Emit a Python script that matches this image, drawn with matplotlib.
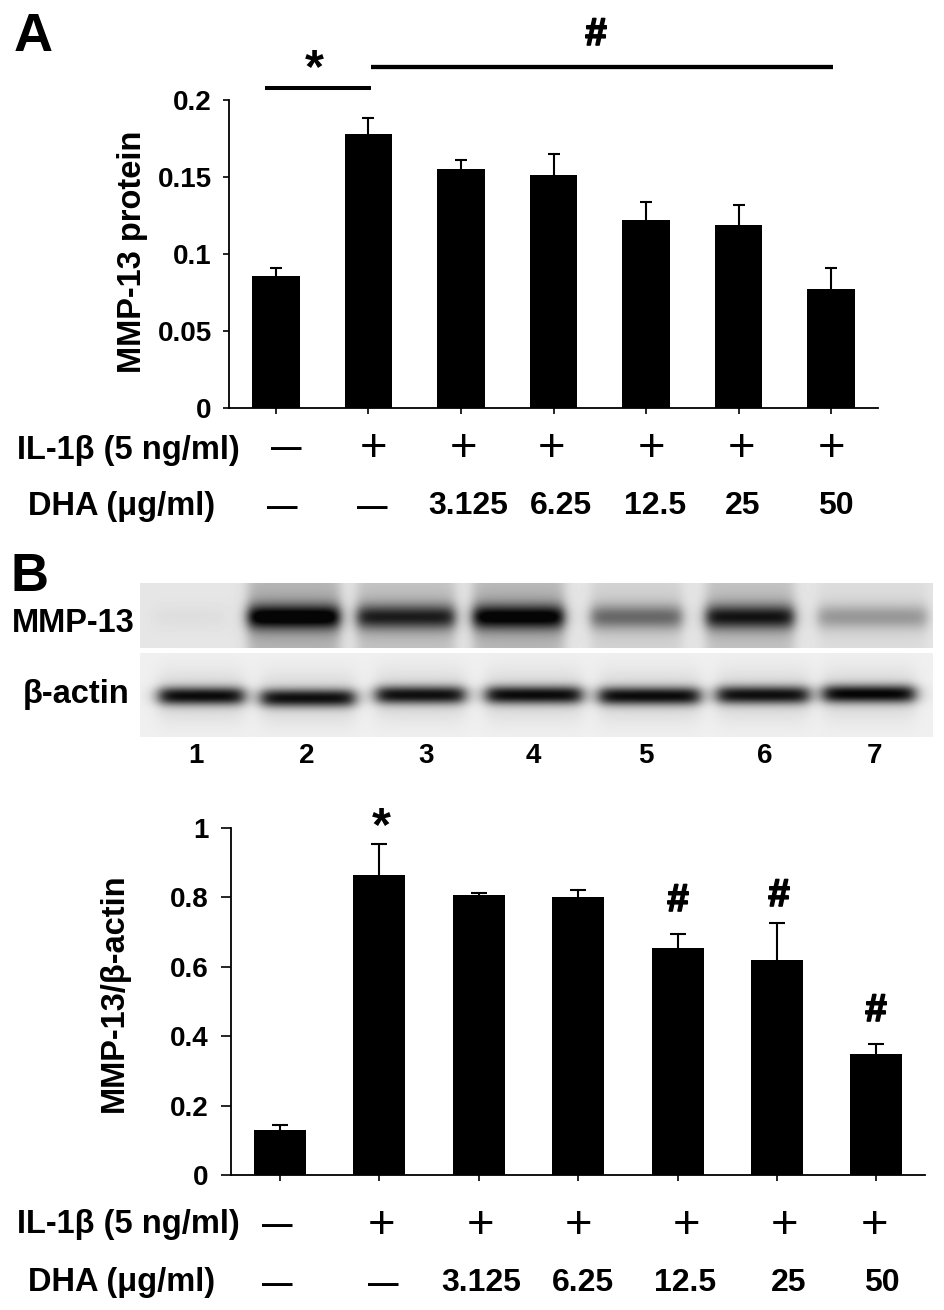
import numpy as np
import matplotlib
matplotlib.use("Agg")
import matplotlib.pyplot as plt
import matplotlib.patheffects as pe

W, H = 945, 1310
plt.rcParams['font.family'] = ['Liberation Sans', 'DejaVu Sans']
plt.rcParams['font.weight'] = 'bold'

# --- data ---
a_values = [0.086, 0.178, 0.155, 0.151, 0.122, 0.119, 0.077]
a_err = [0.005, 0.010, 0.006, 0.014, 0.012, 0.013, 0.014]
a_ticks = [0, 0.05, 0.1, 0.15, 0.2]
a_ticklabels = ['0', '0.05', '0.1', '0.15', '0.2']

b_values = [0.13, 0.865, 0.808, 0.80, 0.655, 0.62, 0.35]
b_err = [0.015, 0.09, 0.004, 0.02, 0.04, 0.105, 0.028]
b_ticks = [0, 0.2, 0.4, 0.6, 0.8, 1]
b_ticklabels = ['0', '0.2', '0.4', '0.6', '0.8', '1']

il1_row = ['—', '+', '+', '+', '+', '+', '+']
dha_row = ['—', '—', '3.125', '6.25', '12.5', '25', '50']
lanes = ['1', '2', '3', '4', '5', '6', '7']

# blot band strengths per lane
mmp_strength = [0.04, 0.98, 0.80, 0.95, 0.52, 0.85, 0.34]
mmp_smear = [0.0, 0.30, 0.22, 0.28, 0.12, 0.22, 0.06]
actin_strength = [0.92, 0.90, 0.90, 0.92, 0.92, 0.90, 0.95]

fig = plt.figure(figsize=(W / 100, H / 100), dpi=100)


def make_axes(left, right, top, bottom):
    return fig.add_axes([left / W, 1 - bottom / H, (right - left) / W, (bottom - top) / H])


# overlay in pixel coordinates for text, blot and markers
ov = fig.add_axes([0, 0, 1, 1])
ov.set_xlim(0, W)
ov.set_ylim(H, 0)
ov.axis('off')
ov.set_zorder(5)


def bar_panel(box, vals, errs, width, ymax, ticks, labels, xlim, ylabel, ylabel_x, ylabel_y,
              ylen, ypad, capms):
    ax = make_axes(*box)
    x = np.arange(len(vals))
    tops = np.array(vals) + np.array(errs)
    ax.bar(x, vals, width=width, color='black', zorder=2)
    ax.vlines(x, vals, tops, color='black', lw=1.5, zorder=1)
    ax.plot(x, tops, ls='none', marker='_', ms=capms, mew=1.5, color='black', zorder=1)
    ax.set_xlim(*xlim)
    ax.set_ylim(0, ymax)
    ax.set_xticks(x)
    ax.set_xticklabels([])
    ax.set_yticks(ticks)
    ax.set_yticklabels(labels, fontsize=20, fontweight='bold')
    ax.tick_params(axis='x', length=4, width=1.2, pad=2)
    ax.tick_params(axis='y', length=ylen, width=1.2, pad=ypad)
    for s in ['top', 'right']:
        ax.spines[s].set_visible(False)
    for s in ['left', 'bottom']:
        ax.spines[s].set_linewidth(1.3)
    ov.text(ylabel_x, ylabel_y, ylabel, rotation=90, fontsize=23.5, ha='center', va='center')
    return ax


ax_a = bar_panel((229, 878, 100, 408), a_values, a_err, 0.513, 0.2, a_ticks, a_ticklabels,
                 (-0.508, 6.508), 'MMP-13 protein', 133, 252, 4.5, 8, 9)
ax_b = bar_panel((231, 925, 828, 1175), b_values, b_err, 0.523, 1.0, b_ticks, b_ticklabels,
                 (-0.493, 6.49), 'MMP-13/β-actin', 114, 993, 7, 9, 11)


def row(y, items, xs):
    for s, x in zip(items, xs):
        if s == '+':
            ov.text(x, y + 2, s, fontsize=34, fontweight='normal', ha='center', va='center')
        elif s == '—':
            ov.text(x, y + 2, s, fontsize=22, ha='center', va='center')
        else:
            ov.text(x, y, s, fontsize=23, ha='center', va='center')


row(447, il1_row, [286, 374, 464, 552, 652, 742, 832])
row(506, dha_row, [282, 372, 468, 561, 655, 743, 836])
row(1224, il1_row, [277, 382, 481, 579, 687, 785, 875])
row(1283, dha_row, [277, 383, 481, 583, 685, 789, 882])

ov.text(17, 450, 'IL-1β (5 ng/ml)', fontsize=23.5, ha='left', va='center')
ov.text(28, 506, 'DHA (μg/ml)', fontsize=23.5, ha='left', va='center')
ov.text(17, 1225, 'IL-1β (5 ng/ml)', fontsize=23.5, ha='left', va='center')
ov.text(28, 1283, 'DHA (μg/ml)', fontsize=23.5, ha='left', va='center')

# panel letters
ov.text(33, 37, 'A', fontsize=39, ha='center', va='center')
ov.text(30, 577, 'B', fontsize=38, ha='center', va='center')

# significance marks
hash_fx = [pe.withStroke(linewidth=1.2, foreground='black')]
ov.plot([265, 371], [88, 88], color='black', lw=2.9, solid_capstyle='butt')
ov.plot([371, 833], [66.5, 66.5], color='black', lw=3.1, solid_capstyle='butt')
ov.text(314, 70, '*', fontsize=35, ha='center', va='center')
ov.text(596, 35, '#', fontsize=28, ha='center', va='center', path_effects=hash_fx)
ov.text(381, 828, '*', fontsize=35, ha='center', va='center')
for x, y in [(678, 901), (779, 896), (876, 1011)]:
    ov.text(x, y, '#', fontsize=28, ha='center', va='center', path_effects=hash_fx)

# --- western blots, built from band strengths ---
blot_left, blot_right = 140, 933
mmp_top, mmp_bottom = 583, 648
act_top, act_bottom = 653, 737
mmp_lanes = [(155, 225), (248, 340), (357, 455), (473, 564), (591, 682), (706, 794), (818, 927)]
act_lanes = [(159, 244), (261, 355), (376, 465), (486, 582), (599, 700), (717, 809), (823, 915)]
act_y = [696, 698, 695, 695, 696, 695, 694]

xx = np.arange(blot_left, blot_right) + 0.5


def box_profile(x, lo, hi, edge):
    return 0.5 * (np.tanh((x - lo) / edge) - np.tanh((x - hi) / edge))


yy = np.arange(mmp_top, mmp_bottom) + 0.5
mmp = np.full((len(yy), len(xx)), 0.90)
for (lo, hi), s, sm in zip(mmp_lanes, mmp_strength, mmp_smear):
    prof = box_profile(xx, lo, hi, 7)[None, :]
    cy = 617
    band = np.exp(-((yy - cy) / 12.0) ** 2)[:, None]
    halo = np.exp(-((yy - cy) / 26.0) ** 2)[:, None]
    mmp = mmp - prof * (0.72 * s * band + sm * (0.55 + 0.45 * halo))
mmp = np.clip(mmp, 0.02, 1)

yy2 = np.arange(act_top, act_bottom) + 0.5
act = np.full((len(yy2), len(xx)), 0.94)
for (lo, hi), s, cy in zip(act_lanes, actin_strength, act_y):
    prof = box_profile(xx, lo, hi, 9)[None, :]
    band = np.exp(-(np.abs(yy2 - cy) / 9.0) ** 2.2)[:, None]
    glow = np.exp(-((yy2 - cy) / 24.0) ** 2)[:, None]
    act = act - prof * (0.85 * s * band + 0.12 * glow)
act = np.clip(act, 0.02, 1)

ov.imshow(mmp, extent=(blot_left, blot_right, mmp_bottom, mmp_top), cmap='gray', vmin=0, vmax=1,
          aspect='auto', interpolation='bilinear')
ov.imshow(act, extent=(blot_left, blot_right, act_bottom, act_top), cmap='gray', vmin=0, vmax=1,
          aspect='auto', interpolation='bilinear')
ov.set_xlim(0, W)
ov.set_ylim(H, 0)

ov.text(12, 623, 'MMP-13', fontsize=23.5, ha='left', va='center')
ov.text(23, 695, 'β-actin', fontsize=23.5, ha='left', va='center')
for s, x in zip(lanes, [196, 307, 426, 533, 646, 765, 875]):
    ov.text(x, 756, s, fontsize=20, ha='center', va='center')

fig.savefig('out.png', dpi=100)
